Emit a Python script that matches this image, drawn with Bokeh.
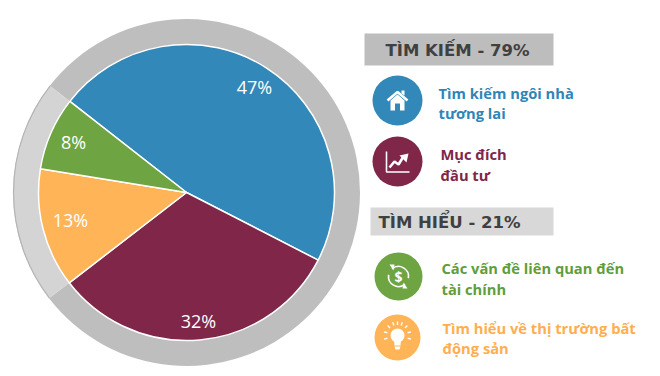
from math import cos, sin, radians
from bokeh.plotting import figure
from bokeh.models import Range1d
from bokeh.core.properties import value
from bokeh.embed import file_html
from bokeh.resources import INLINE

categories = ["Tìm kiếm ngôi nhà tương lai", "Mục đích đầu tư", "Tìm hiểu về thị trường bất động sản", "Các vấn đề liên quan đến tài chính"]
shares = [47, 32, 13, 8]
slice_colors = ["#3288B8", "#802648", "#FFB457", "#6FA442"]
slice_labels = ["47%", "32%", "13%", "8%"]
group_shares = [79, 21]
group_colors = ["#BEBEBE", "#D4D4D4"]
headers = ["TÌM KIẾM - 79%", "TÌM HIỂU - 21%"]

W, H = 652, 368
def Y(py): return 376 - py

p = figure(width=W, height=H, output_backend="svg", toolbar_location=None,
           x_range=Range1d(0, W), y_range=Range1d(376 - H, 376), min_border=0,
           border_fill_color="#FFFFFF", background_fill_color="#FFFFFF", outline_line_color=None)
p.axis.visible = False
p.grid.visible = False

CX, CY, R, RO = 186, Y(192), 148, 173.5
START = 142.0

# outer ring from the two group shares
a = START
ring_edges = []
for s in group_shares:
    b = a - s * 3.6
    ring_edges.append((a, b))
    a = b
for (st, en), c in zip(ring_edges, group_colors):
    p.annular_wedge(x=[CX], y=[CY], inner_radius=R - 1, outer_radius=RO,
                    start_angle=radians(en), end_angle=radians(st), fill_color=c, line_color=None)
st, en = ring_edges[1]
p.arc(x=[CX], y=[CY], radius=RO - 0.5, start_angle=radians(en), end_angle=radians(st),
      line_color="#B4B4B4", line_width=1.2)

# pie
a = START
for s, c in zip(shares, slice_colors):
    b = a - s * 3.6
    p.wedge(x=[CX], y=[CY], radius=R, start_angle=radians(b), end_angle=radians(a),
            fill_color=c, line_color="#FFFFFF", line_width=1.5)
    a = b

# percentage labels
lab_x = [254, 198, 70, 73]
lab_y = [86, 320, 219, 141]
for x, y, t in zip(lab_x, lab_y, slice_labels):
    p.text(x=[x], y=[Y(y)], text=[t], text_color="#FFFFFF", text_font=value("Open Sans"),
           text_font_size="18px", text_align="center", text_baseline="middle")

# headers
hdr = [(364, 553, 33, 65, "#BDBDBD"), (370, 553, 207, 235, "#D8D8D8")]
hdr_tx = [(385, 50), (378, 222)]
for (x0, x1, y0, y1, c), (tx, ty), t in zip(hdr, hdr_tx, headers):
    p.quad(left=[x0], right=[x1], top=[Y(y0)], bottom=[Y(y1)], fill_color=c, line_color=None)
    p.text(x=[tx], y=[Y(ty)], text=[t], text_color="#404040", text_font=value("DejaVu Sans"),
           text_font_style="bold", text_font_size="16.5px", text_align="left", text_baseline="middle")

# item circles
circles = [(397, 100, 25, "#3288B8"), (397, 161, 25, "#802648"), (398, 276, 24, "#6FA442"), (397, 337, 23, "#FFB457")]
for x, y, r, c in circles:
    p.circle(x=[x], y=[Y(y)], radius=r, fill_color=c, line_color=None)

# item texts
items = [
    (438, 92, "Tìm kiếm ngôi nhà", "#2E86B8"), (438, 112, "tương lai", "#2E86B8"),
    (440, 153, "Mục đích", "#802648"), (440, 174, "đầu tư", "#802648"),
    (441, 267, "Các vấn đề liên quan đến", "#5F9E3A"), (441, 288, "tài chính", "#5F9E3A"),
    (442, 327, "Tìm hiểu về thị trường bất", "#FFAE4F"), (442, 347, "động sản", "#FFAE4F"),
]
for x, y, t, c in items:
    p.text(x=[x], y=[Y(y)], text=[t], text_color=c, text_font=value("Open Sans"), text_font_style="bold",
           text_font_size="14.7px", text_align="left", text_baseline="middle")

WHITE = "#FFFFFF"
def poly(xs, ys, color=WHITE):
    p.patch(x=xs, y=[Y(v) for v in ys], fill_color=color, line_color=None)
def line(xs, ys, w=1.5, color=WHITE):
    p.line(x=xs, y=[Y(v) for v in ys], line_color=color, line_width=w)

# house
poly([390, 397, 404, 404, 399.5, 399.5, 394.5, 394.5, 390],
     [100, 94, 100, 110, 110, 103, 103, 110, 110])
line([387, 397, 407], [100, 91.5, 100], 2.6)
poly([401, 404, 404, 401], [90, 90, 95, 93])

# chart
line([386, 386, 409], [151, 171.5, 171.5], 1.6)
line([389, 394, 398, 403], [167, 161, 164, 156], 2.6)
poly([399, 408, 406], [155, 153, 162])

# money: dollar sign and circular arrows
p.text(x=[398], y=[Y(276)], text=["$"], text_color=WHITE, text_font=value("Open Sans"), text_font_style="bold",
       text_font_size="14px", text_align="center", text_baseline="middle")
p.arc(x=[398], y=[Y(276)], radius=10, start_angle=radians(-10), end_angle=radians(130), line_color=WHITE, line_width=1.6)
p.arc(x=[398], y=[Y(276)], radius=10, start_angle=radians(170), end_angle=radians(310), line_color=WHITE, line_width=1.6)
poly([389, 394, 393], [264, 264, 270])
poly([407, 402, 403], [288, 288, 282])

# bulb
p.circle(x=[397], y=[Y(335)], radius=7, fill_color=WHITE, line_color=None)
poly([393.5, 400.5, 400, 394], [339, 339, 345, 345])
poly([394, 400, 399, 395], [346, 346, 349, 349])
for ang in [-15, 15, 45, 70, 90, 110, 135, 165, 195]:
    c, s = cos(radians(ang)), sin(radians(ang))
    line([397 + 10.5 * c, 397 + 14 * c], [335 - 10.5 * s, 335 - 14 * s], 1.4)

open("out.html", "w").write(file_html(p, INLINE))
